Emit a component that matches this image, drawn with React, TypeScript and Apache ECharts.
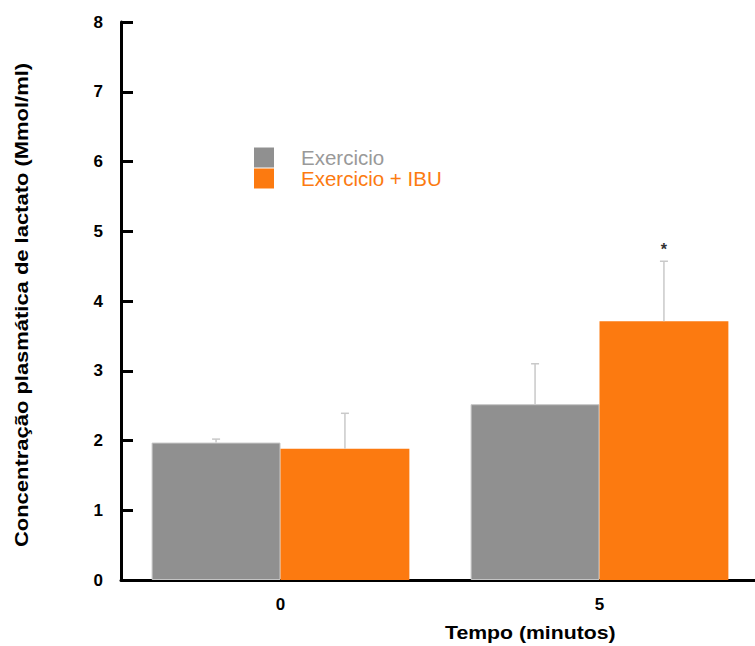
import React, { useEffect, useRef } from "react";
import * as echarts from "echarts";

const categories = ["0", "5"];
const exercicio = [1.97, 2.52];
const exercicioErr = [0.05, 0.58];
const exercicioIbu = [1.88, 3.71];
const exercicioIbuErr = [0.51, 0.86];
const ibuMarks = ["", "*"];
const seriesNames = ["Exercicio", "Exercicio + IBU"];
const yName = "Concentração plasmática de lactato (Mmol/ml)";
const xName = "Tempo (minutos)";

const GRAY = "#909090";
const ORANGE = "#fc7a10";
const BAR_FRAC = 0.404;
const FONT = "'Liberation Sans', Arial, sans-serif";

function makeErr(side: number, marks: string[] | null) {
  return (params: any, api: any) => {
    const x = api.value(0);
    const m = api.value(1);
    const e = api.value(2);
    const band = api.size([1, 0])[0];
    const off = (side * band * BAR_FRAC) / 2;
    const base = api.coord([x, m]);
    const top = api.coord([x, m + e]);
    const cx = base[0] + off;
    const st = { stroke: "#c9c9c9", lineWidth: 1.5 };
    const children: any[] = [
      { type: "line", shape: { x1: cx, y1: base[1], x2: cx, y2: top[1] }, style: st },
      { type: "line", shape: { x1: cx - 4, y1: top[1], x2: cx + 4, y2: top[1] }, style: st },
    ];
    const mk = marks ? marks[params.dataIndex] : "";
    if (mk) {
      children.push({
        type: "text",
        x: cx,
        y: top[1] - 4,
        style: {
          text: mk,
          align: "center",
          verticalAlign: "bottom",
          fontSize: 16,
          fontWeight: "bold",
          fontFamily: FONT,
          fill: "#333",
        },
      });
    }
    return { type: "group", children };
  };
}

export default function App() {
  const ref = useRef<HTMLDivElement>(null);
  useEffect(() => {
    const chart = echarts.init(ref.current!, null, { renderer: "svg" });
    chart.setOption({
      animation: false,
      backgroundColor: "#fff",
      textStyle: { fontFamily: FONT },
      grid: { left: 121, top: 22, bottom: 66, right: 0 },
      legend: {
        orient: "vertical",
        left: 254,
        top: 147,
        itemWidth: 20,
        itemHeight: 20,
        itemGap: 0,
        icon: "rect",
        padding: 0,
        itemStyle: { borderWidth: 0 },
        data: [
          { name: seriesNames[0], textStyle: { color: "#999" } },
          { name: seriesNames[1], textStyle: { color: ORANGE } },
        ],
        textStyle: { fontSize: 20.5, fontFamily: FONT, lineHeight: 20, padding: [0, 0, 0, 22] },
      },
      xAxis: {
        type: "category",
        data: categories,
        axisTick: { show: false },
        axisLine: { lineStyle: { color: "#000", width: 3 } },
        axisLabel: { color: "#000", fontWeight: "bold", fontSize: 17, margin: 16, fontFamily: FONT },
      },
      yAxis: {
        type: "value",
        min: 0,
        max: 8,
        interval: 1,
        splitLine: { show: false },
        axisLine: { show: true, lineStyle: { color: "#000", width: 3 } },
        axisTick: { show: true, inside: true, length: 12, lineStyle: { color: "#000", width: 3 } },
        axisLabel: { color: "#000", fontWeight: "bold", fontSize: 17, margin: 18, fontFamily: FONT },
      },
      graphic: [
        {
          type: "text",
          x: 445,
          y: 633,
          scaleX: 1.18,
          style: {
            text: xName,
            fontSize: 18,
            fontWeight: "bold",
            fontFamily: FONT,
            fill: "#000",
            align: "left",
            verticalAlign: "middle",
          },
        },
        {
          type: "text",
          x: 22,
          y: 305,
          rotation: Math.PI / 2,
          scaleX: 1.22,
          style: {
            text: yName,
            fontSize: 18,
            fontWeight: "bold",
            fontFamily: FONT,
            fill: "#000",
            align: "center",
            verticalAlign: "middle",
          },
        },
      ],
      series: [
        {
          name: seriesNames[0],
          type: "bar",
          data: exercicio,
          barWidth: BAR_FRAC * 100 + "%",
          barGap: "0%",
          itemStyle: { color: GRAY, borderColor: "#c4c4c4", borderWidth: 1 },
        },
        {
          name: seriesNames[1],
          type: "bar",
          data: exercicioIbu,
          barWidth: BAR_FRAC * 100 + "%",
          barGap: "0%",
          itemStyle: { color: ORANGE },
        },
        {
          type: "custom",
          z: 5,
          renderItem: makeErr(-1, null),
          data: exercicio.map((v, i) => [i, v, exercicioErr[i]]),
          encode: { x: 0, y: 1 },
        },
        {
          type: "custom",
          z: 5,
          renderItem: makeErr(1, ibuMarks),
          data: exercicioIbu.map((v, i) => [i, v, exercicioIbuErr[i]]),
          encode: { x: 0, y: 1 },
        },
      ],
    });
    return () => chart.dispose();
  }, []);
  return (
    <div
      ref={ref}
      style={{ position: "fixed", left: 0, top: 0, width: 759, height: 646 }}
    />
  );
}
